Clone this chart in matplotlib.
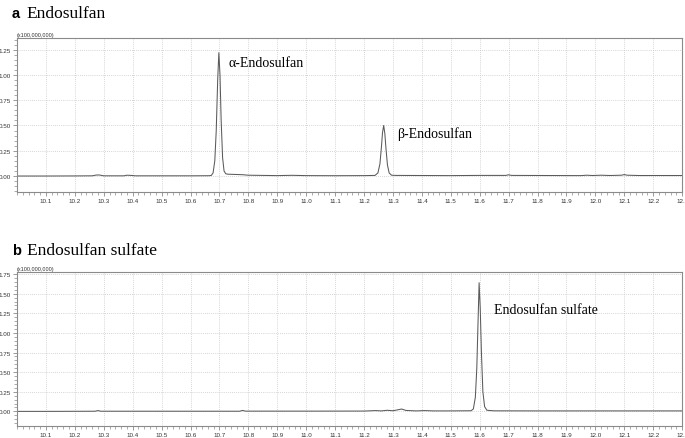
import matplotlib
matplotlib.use("Agg")
import matplotlib.pyplot as plt
from matplotlib.ticker import MultipleLocator, FormatStrFormatter

# retention time (min) and intensity (x100,000,000)
t_a = [10.00, 10.10, 10.20, 10.26, 10.275, 10.285, 10.30, 10.37, 10.38, 10.395, 10.41,
       10.60, 10.665, 10.672, 10.678, 10.684, 10.689, 10.694, 10.698, 10.702, 10.706,
       10.711, 10.716, 10.722, 10.73, 10.75, 10.78, 10.80, 10.85, 10.90, 10.95, 11.00,
       11.10, 11.20, 11.238, 11.248, 11.255, 11.260, 11.264, 11.268, 11.272, 11.276,
       11.281, 11.287, 11.295, 11.31, 11.40, 11.50, 11.60, 11.69, 11.70, 11.71, 11.95,
       11.97, 11.99, 12.02, 12.05, 12.09, 12.10, 12.11, 12.15, 12.30]
i_a = [0.000, 0.000, 0.001, 0.002, 0.010, 0.010, 0.002, 0.002, 0.008, 0.006, 0.002,
       0.002, 0.003, 0.006, 0.03, 0.15, 0.45, 0.95, 1.22, 1.00, 0.55,
       0.18, 0.05, 0.022, 0.018, 0.016, 0.013, 0.008, 0.006, 0.004, 0.007, 0.004,
       0.003, 0.004, 0.006, 0.03, 0.12, 0.28, 0.43, 0.50, 0.42, 0.27,
       0.11, 0.03, 0.008, 0.006, 0.005, 0.004, 0.006, 0.006, 0.012, 0.006, 0.004,
       0.008, 0.005, 0.008, 0.005, 0.008, 0.014, 0.008, 0.005, 0.005]

t_b = [10.00, 10.10, 10.20, 10.27, 10.28, 10.29, 10.50, 10.77, 10.78, 10.79, 11.00,
       11.20, 11.24, 11.26, 11.28, 11.30, 11.32, 11.33, 11.345, 11.38, 11.41, 11.44,
       11.50, 11.570, 11.578, 11.585, 11.590, 11.594, 11.598, 11.602, 11.606, 11.611,
       11.617, 11.625, 11.65, 11.80, 12.00, 12.10, 12.30]
i_b = [0.000, 0.000, 0.001, 0.002, 0.010, 0.002, 0.002, 0.002, 0.012, 0.003, 0.003,
       0.004, 0.010, 0.006, 0.014, 0.008, 0.022, 0.030, 0.012, 0.006, 0.010, 0.006,
       0.006, 0.008, 0.03, 0.18, 0.55, 1.10, 1.64, 1.30, 0.75, 0.25,
       0.06, 0.014, 0.007, 0.006, 0.006, 0.006, 0.006]

titles = ["Endosulfan", "Endosulfan sulfate"]
letters = ["a", "b"]
labels_a = ["\u03b1-Endosulfan", "\u03b2-Endosulfan"]
labels_b = ["Endosulfan sulfate"]

fig = plt.figure(figsize=(6.85, 4.39), dpi=100)
ax1 = fig.add_axes([0.0248, 0.5604, 0.9710, 0.3508])
ax2 = fig.add_axes([0.0248, 0.0267, 0.9710, 0.3520])

spine_c = "#8a8a8a"
for ax, t, y, ylim, ytop in [(ax1, t_a, i_a, (-0.158, 1.366), 1.25),
                             (ax2, t_b, i_b, (-0.19, 1.78), 1.75)]:
    ax.plot(t, y, color="#5a5a5a", lw=0.75)
    ax.xaxis.set_major_locator(MultipleLocator(0.1))
    ax.xaxis.set_minor_locator(MultipleLocator(0.02))
    ax.yaxis.set_major_locator(MultipleLocator(0.25))
    ax.yaxis.set_minor_locator(MultipleLocator(0.05))
    ax.yaxis.set_major_formatter(FormatStrFormatter("%.2f"))
    ax.xaxis.set_major_formatter(FormatStrFormatter("%.1f"))
    ax.set_xlim(10.0, 12.3)
    ax.set_ylim(*ylim)
    ax.set_xticks([v for v in ax.get_xticks() if 10.05 < v < 12.31])
    ax.set_yticks([v for v in ax.get_yticks() if -0.01 < v < ytop + 0.01])
    ax.set_xlim(10.0, 12.3)
    ax.set_ylim(*ylim)
    ax.grid(True, which="major", ls=(0, (1, 1.5)), color="#c8c8c8", lw=0.6)
    ax.tick_params(which="both", direction="out", colors=spine_c, labelcolor="#333333",
                   labelsize=4.5)
    ax.tick_params(which="major", length=3, width=0.6, pad=1.2)
    ax.tick_params(which="minor", length=2, width=0.5)
    for lab in ax.get_xticklabels() + ax.get_yticklabels():
        lab.set_family("Liberation Sans")
    for s in ax.spines.values():
        s.set_color(spine_c)
        s.set_linewidth(0.8)
    ax.text(0.0, 1.005, "(x100,000,000)", transform=ax.transAxes, fontsize=4.0,
            family="Liberation Sans", color="#333333", ha="left", va="bottom")

# panel titles
for ypos, letter, title in [(0.968, letters[0], titles[0]), (0.429, letters[1], titles[1])]:
    fig.text(0.017, ypos, letter, fontsize=10.5, fontweight="bold",
             family="Liberation Sans", va="center")
    fig.text(0.039, ypos, title, fontsize=12.5, family="Liberation Serif", va="center")

# peak labels
ax1.text(10.73, 1.12, labels_a[0], fontsize=10, family="Liberation Serif", va="center")
ax1.text(11.315, 0.42, labels_a[1], fontsize=10, family="Liberation Serif", va="center")
ax2.text(11.65, 1.30, labels_b[0], fontsize=10, family="Liberation Serif", va="center")

fig.savefig("out.png", dpi=100)
